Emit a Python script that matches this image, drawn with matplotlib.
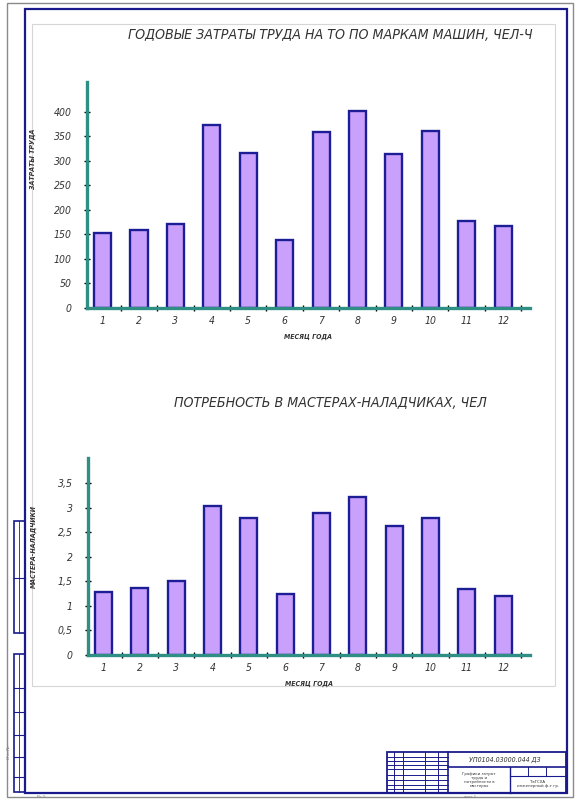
import matplotlib
matplotlib.use("Agg")
import matplotlib.pyplot as plt
from matplotlib.patches import Rectangle
import numpy as np

months = ["1", "2", "3", "4", "5", "6", "7", "8", "9", "10", "11", "12"]
labor_costs = [153, 160, 171, 373, 316, 138, 358, 401, 314, 362, 178, 167]
labor_ticks = [0, 50, 100, 150, 200, 250, 300, 350, 400]
labor_tick_labels = ["0", "50", "100", "150", "200", "250", "300", "350", "400"]
adjusters = [1.28, 1.37, 1.51, 3.04, 2.80, 1.25, 2.89, 3.22, 2.63, 2.80, 1.35, 1.20]
adj_ticks = [0, 0.5, 1, 1.5, 2, 2.5, 3, 3.5]
adj_tick_labels = ["0", "0,5", "1", "1,5", "2", "2,5", "3", "3,5"]

title_top = "ГОДОВЫЕ ЗАТРАТЫ ТРУДА НА ТО ПО МАРКАМ МАШИН, ЧЕЛ-Ч"
title_bot = "ПОТРЕБНОСТЬ В МАСТЕРАХ-НАЛАДЧИКАХ, ЧЕЛ"
ylabel_top = "ЗАТРАТЫ ТРУДА"
ylabel_bot = "МАСТЕРА-НАЛАДЧИКИ"
xlabel = "МЕСЯЦ ГОДА"

FONT = ["DejaVu Sans"]
TEAL = "#2f8f84"
FILL = "#c9a0fc"
EDGE = "#1d1d96"
NAVY = "#1a1a8c"
TXT = "#333333"

W, H = 575, 800
fig = plt.figure(figsize=(W / 100, H / 100), dpi=100)
fig.patch.set_facecolor("white")

ov = fig.add_axes([0, 0, 1, 1], zorder=0)
ov.set_xlim(0, W)
ov.set_ylim(H, 0)
ov.axis("off")

def rect(x0, y0, x1, y1, color, lw):
    ov.add_patch(Rectangle((x0, y0), x1 - x0, y1 - y0, fill=False,
                           edgecolor=color, linewidth=lw))

def hline(y, x0, x1, color=NAVY, lw=0.8):
    ov.plot([x0, x1], [y, y], color=color, lw=lw)

def vline(x, y0, y1, color=NAVY, lw=0.8):
    ov.plot([x, x], [y0, y1], color=color, lw=lw)

rect(7, 3, 573, 797, "#8a8a8a", 1.0)
rect(25, 9, 567, 793, NAVY, 1.6)
rect(32, 24, 555, 686, "#d6d6d6", 0.8)

rect(14, 521, 25, 633, NAVY, 1.2)
hline(578, 14, 25)
vline(18.5, 521, 633, lw=0.6)
rect(14, 654, 25, 792, NAVY, 1.2)
for yy in [688, 712, 735, 757, 777]:
    hline(yy, 14, 25)
vline(18.5, 654, 792, lw=0.6)
ov.text(9, 752, "Инв.№", rotation=90, fontsize=3.2, color="#888888",
        family=FONT, ha="center", va="center")
ov.text(42, 797, "Вх.5", fontsize=3.2, color="#888888", family=FONT,
        ha="center", va="center")

bx0, by0, bx1, by1 = 387, 752, 566, 793
rect(bx0, by0, bx1, by1, NAVY, 1.3)
for xx in [394, 403, 425, 438]:
    vline(xx, by0, by1, lw=0.7)
vline(448, by0, by1, lw=1.2)
for yy in [757, 761, 765, 769, 775, 780, 785, 789]:
    hline(yy, bx0, 448, lw=0.7)
hline(767, 448, bx1, lw=1.2)
vline(510, 767, by1, lw=1.0)
hline(776, 510, bx1, lw=0.8)
for xx in [528, 546]:
    vline(xx, 767, 776, lw=0.7)
ov.text(505, 760, "УП0104.03000.044 ДЗ", fontsize=5, style="italic",
        color=TXT, family=FONT, ha="center", va="center", fontstretch="condensed")
ov.text(479, 780, "Графики затрат\nтруда и\nпотребности в\nмастерах", fontsize=2.8,
        color=TXT, family=FONT, ha="center", va="center", linespacing=1.1)
ov.text(538, 784, "ТвГСХА\nинженерный ф-т гр.", fontsize=2.8,
        color=TXT, family=FONT, ha="center", va="center", linespacing=1.1)
ov.text(470, 797, "лист 1", fontsize=2.5, color="#777777", family=FONT,
        ha="center", va="center")

def px_axes(left, top, right, bottom):
    return fig.add_axes([left / W, 1 - bottom / H, (right - left) / W,
                         (bottom - top) / H], zorder=2)

def style_axes(ax, values, ticks, tick_labels, ymax, ylab):
    x = np.arange(len(months))
    ax.bar(x, values, width=0.47, color=FILL, edgecolor=EDGE, linewidth=1.7,
           zorder=3)
    ax.set_facecolor("none")
    ax.set_xlim(-0.43, len(months) - 1 + 0.74)
    ax.set_ylim(0, ymax)
    for s in ["top", "right"]:
        ax.spines[s].set_visible(False)
    for s in ["left", "bottom"]:
        ax.spines[s].set_color(TEAL)
        ax.spines[s].set_linewidth(2.4)
        ax.spines[s].set_zorder(4)
    ax.set_xticks(x)
    ax.set_xticklabels(months)
    ax.set_xticks(list(x + 0.5), minor=True)
    ax.set_yticks(ticks)
    ax.set_yticklabels(tick_labels)
    ax.tick_params(axis="x", which="major", length=0, pad=6)
    ax.tick_params(axis="x", which="minor", length=4, width=1.0,
                   direction="inout", color="black")
    ax.tick_params(axis="y", which="major", length=4, width=1.0,
                   direction="inout", color="black", pad=9)
    for lab in ax.get_xticklabels() + ax.get_yticklabels():
        lab.set_family(FONT)
        lab.set_fontstyle("italic")
        lab.set_fontstretch("condensed")
        lab.set_fontsize(7.5)
        lab.set_color(TXT)
    ax.set_xlabel(xlabel, family=FONT, fontstyle="italic", fontweight="bold",
                  fontsize=5, color=TXT, labelpad=5, fontstretch="condensed")
    ax.set_ylabel(ylab, family=FONT, fontstyle="italic", fontweight="bold",
                  fontsize=5, color=TXT, labelpad=16, fontstretch="condensed")

ax1 = px_axes(87, 82, 530, 308)
style_axes(ax1, labor_costs, labor_ticks, labor_tick_labels, 461, ylabel_top)
ax1.yaxis.set_label_coords(-0.115, 0.66)

ax2 = px_axes(88, 458, 530, 655)
style_axes(ax2, adjusters, adj_ticks, adj_tick_labels, 4.02, ylabel_bot)
ax2.yaxis.set_label_coords(-0.115, 0.55)

ov.text(533, 35, title_top, family=FONT, fontstyle="italic", fontsize=10.2,
        fontstretch="condensed", color=TXT, ha="right", va="center")
ov.text(174, 403, title_bot, family=FONT, fontstyle="italic", fontsize=10.2,
        fontstretch="condensed", color=TXT, ha="left", va="center")

fig.savefig("out.png", dpi=100, facecolor="white")
